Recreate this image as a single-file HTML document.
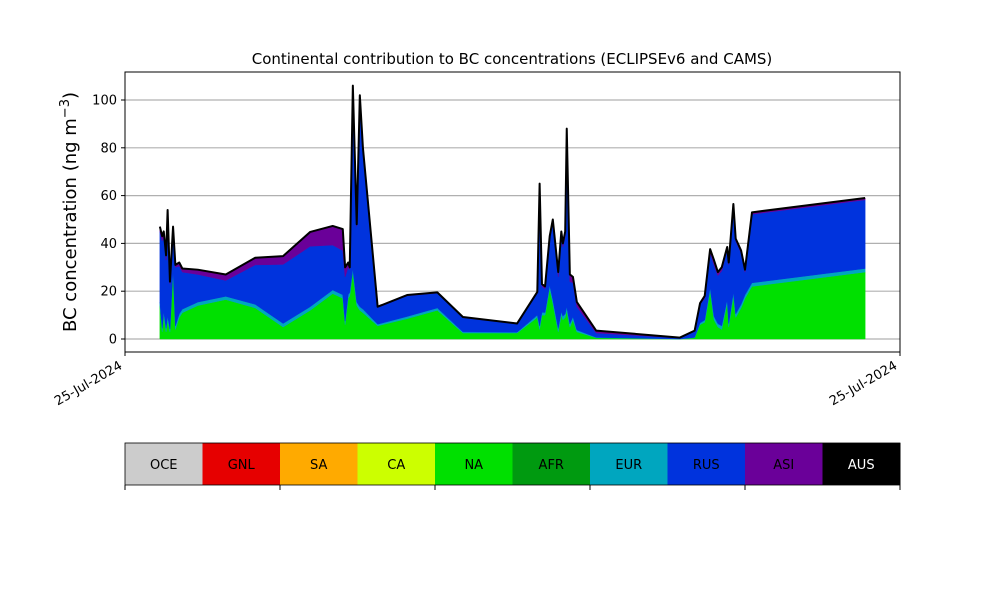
<!DOCTYPE html>
<html><head><meta charset="utf-8"><style>
body{margin:0;background:#fff;}
svg text{font-family:"DejaVu Sans","Liberation Sans",sans-serif;}
</style></head><body>
<svg id="chart" width="1000" height="600" xmlns="http://www.w3.org/2000/svg">
<rect width="1000" height="600" fill="#fff"/>
<text x="512" y="64" text-anchor="middle" font-size="15">Continental contribution to BC concentrations (ECLIPSEv6 and CAMS)</text>
<g id="grid"></g><g id="areas"></g><g id="axes"></g><g id="legend"></g>
</svg>
<script>
const times=[4.5,4.8,5.0,5.3,5.5,5.8,6.2,6.5,7.0,7.4,9.4,13.0,16.8,20.4,23.9,26.8,28.1,28.4,28.8,29.0,29.4,29.9,30.3,30.7,32.6,36.4,40.3,43.6,50.6,53.2,53.5,53.8,54.2,54.8,55.2,55.9,56.3,56.5,56.8,57.0,57.4,57.8,58.3,60.8,71.6,73.5,74.2,74.8,75.5,76.0,76.5,77.0,77.7,77.9,78.5,78.8,79.5,80.0,80.9,95.5];
const totalVals=[47,43,45,35,54,24,47,31,32,29.5,29,27,34,34.7,44.8,47.3,46,30,32,30,106,48,102,80,13.5,18.4,19.5,9.2,6.5,19.7,65,23,22,43,50,28,45,40,45,88,27,26,15.5,3.5,0.6,3.5,15,18,37.6,33,28,30,38.5,32,56.5,42,37,29,53,59];
const naVals=[14,3,10,3,8,3,28,4,9,11,14,16.5,13,5,12,19,17,6,17,18,28,14,12,11,5.5,8.5,12,2.5,2.5,9,4,10,10,21,15,3,10,8,9,12,5,8,3,0.5,0,0.5,6,7,20,8,5,4,15,5,18,9,13,17,22,28];
const asiVals=[2,2,2,2,2,1,2,1,1.5,1.5,2,2.5,3,3.5,6,8,9,4,2,1,1,1,1,1,0.3,0.3,0.3,0.3,0.2,0.5,1,1,1,1,1,2,2,1.5,2,2,3,2.5,2,1,0.2,0.3,0.5,1,1.5,2,1.5,1.5,1,1,1.5,1,1,1,0.8,0.8];
const yTicks=[0,20,40,60,80,100];
const legendNames=["OCE","GNL","SA","CA","NA","AFR","EUR","RUS","ASI","AUS"];
const legendColors=["#cccccc","#e60000","#ffaa00","#ccff00","#00e000","#009a10","#00a6bf","#0033dd","#6a0099","#000000"];

const X0=125,X1=900,Y0=72,Y1=352;
const x=t=>X0+t/100*(X1-X0);
const y=v=>339-v*2.39;
const NS="http://www.w3.org/2000/svg";
function mk(tag,attrs,parent){const e=document.createElementNS(NS,tag);for(const k in attrs)e.setAttribute(k,attrs[k]);parent.appendChild(e);return e;}
const grid=document.getElementById('grid'),areas=document.getElementById('areas'),axes=document.getElementById('axes'),legend=document.getElementById('legend');

yTicks.forEach(v=>{
  const l=mk('line',{x1:X0,x2:X1,y1:y(v),y2:y(v),stroke:'#b0b0b0','stroke-width':1.2},grid);
  
  
  const tk=mk('line',{x1:X0-4,x2:X0,y1:y(v),y2:y(v),stroke:'#000'},axes);
  
  
  const tx=mk('text',{x:X0-8,y:y(v)+4.5,'text-anchor':'end','font-size':13},axes);
  tx.textContent=v;
  
  
});

const eurVals=totalVals.map((T,i)=>Math.min(1.5,T*0.05));
const rusVals=totalVals.map((T,i)=>Math.max(0,T-naVals[i]-eurVals[i]-asiVals[i]));
const layers=[["na",naVals,"#00e000"],["eur",eurVals,"#00a6bf"],["rus",rusVals,"#0033dd"],["asi",asiVals,"#6a0099"]];
let base=times.map(()=>0);
layers.forEach(([nm,vals,col])=>{
  const top=base.map((b,i)=>b+vals[i]);
  let d='M'+times.map((t,i)=>x(t)+','+y(top[i])).join('L');
  for(let i=times.length-1;i>=0;i--)d+='L'+x(times[i])+','+y(base[i]);
  const p=mk('path',{d:d+'Z',fill:col,stroke:col,'stroke-width':0.5},areas);
  
  
  base=top;
});
const tl=mk('path',{d:'M'+times.map((t,i)=>x(t)+','+y(totalVals[i])).join('L'),fill:'none',stroke:'#000','stroke-width':2,'stroke-linejoin':'round'},areas);



const fr=mk('rect',{x:X0,y:Y0,width:X1-X0,height:Y1-Y0,fill:'none',stroke:'#000','stroke-width':1},axes);


[X0,X1].forEach(px=>{
  const tk=mk('line',{x1:px,x2:px,y1:Y1,y2:Y1+4,stroke:'#000'},axes);
  
  
  const tx=mk('text',{x:px-2,y:Y1+16,'text-anchor':'end','font-size':13,transform:'rotate(-30 '+(px-2)+' '+(Y1+16)+')'},axes);
  tx.textContent='25-Jul-2024';
  
  
});
const yl=mk('text',{x:76,y:212,'text-anchor':'middle','font-size':18,transform:'rotate(-90 76 212)'},axes);
yl.innerHTML='BC concentration (ng m<tspan dy="-7" font-size="13">−3</tspan><tspan dy="7">)</tspan>';



const LW=(X1-X0)/legendNames.length;
legendNames.forEach((n,i)=>{
  const r=mk('rect',{x:X0+i*LW,y:443,width:LW+0.5,height:42,fill:legendColors[i]},legend);
  
  
  const t=mk('text',{x:X0+i*LW+LW/2,y:469,'text-anchor':'middle','font-size':13,fill:n==='AUS'?'#fff':'#000'},legend);
  t.textContent=n;
  
  
});
const lf=mk('rect',{x:X0,y:443,width:X1-X0,height:42,fill:'none',stroke:'#000','stroke-width':0.8},legend);


for(let i=0;i<=5;i++){
  const tk=mk('line',{x1:X0+i*2*LW,x2:X0+i*2*LW,y1:485,y2:490,stroke:'#000'},legend);
  
  
}
</script>
</body></html>
